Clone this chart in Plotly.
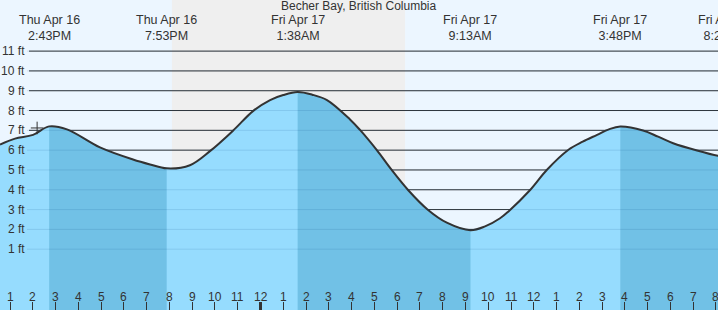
import plotly.graph_objects as go

# ---- data (hours since Thu Apr 16 00:00) ----
tide_hours = [12.56, 13.22, 14.01, 14.72, 15.50, 16.95, 18.40, 19.15, 19.88, 20.90,
              21.78, 22.79, 23.67, 24.42, 25.00, 25.63, 26.27, 26.92, 27.93, 28.37,
              29.10, 29.76, 30.48, 31.36, 32.18, 33.22, 33.86, 34.52, 34.90, 35.84,
              36.57, 37.51, 38.15, 38.78, 39.30, 39.80, 40.80, 41.46, 42.12, 43.17,
              44.09, 44.40]
tide_ft = [6.28, 6.58, 6.77, 7.20, 7.05, 6.14, 5.53, 5.28, 5.08, 5.24,
           5.95, 6.98, 7.97, 8.53, 8.78, 8.93, 8.80, 8.53, 7.55, 7.02,
           6.01, 5.00, 3.99, 2.98, 2.34, 1.96, 2.15, 2.56, 2.92, 3.99,
           5.00, 6.01, 6.43, 6.77, 7.05, 7.19, 6.99, 6.68, 6.35, 5.98,
           5.71, 5.66]

event_hours = [14.72, 19.88, 25.63, 33.22, 39.80, 44.40]
event_dates = ["Thu Apr 16", "Thu Apr 16", "Fri Apr 17", "Fri Apr 17", "Fri Apr 17", "Fri Apr 17"]
event_times = ["2:43PM", "7:53PM", "1:38AM", "9:13AM", "3:48PM", "8:24PM"]
event_kind = ["high", "low", "high", "low", "high", "low"]

night_start, night_end = 20.11, 30.35
now_hour, now_ft = 14.19, 7.12

hour_ticks = list(range(13, 45))
hour_labels = ["1", "2", "3", "4", "5", "6", "7", "8", "9", "10", "11", "12",
               "1", "2", "3", "4", "5", "6", "7", "8", "9", "10", "11", "12",
               "1", "2", "3", "4", "5", "6", "7", "8"]
midnight_hour = 24

ft_levels = [1, 2, 3, 4, 5, 6, 7, 8, 9, 10, 11]
ft_labels = [f"{v} ft" for v in ft_levels]

title = "Becher Bay, British Columbia"

# ---- styling ----
W, H = 718, 310
X_RANGE = [12.56, 44.09]
Y_RANGE = [-2.07, 13.58]
BASE = -5
DAY_BG = "#ecf6ff"
NIGHT_BG = "#efefef"
LIGHT = "#96dcfe"
DARK = "#71c1e6"
TXT = "#333333"
FONT = "Liberation Sans, Arial, sans-serif"


def to_paper(h):
    return (h - X_RANGE[0]) / (X_RANGE[1] - X_RANGE[0])


fig = go.Figure()

# light fill under whole curve
fig.add_trace(go.Scatter(x=[tide_hours[0], tide_hours[-1]], y=[BASE, BASE], mode="lines",
                         line=dict(width=0), hoverinfo="skip", showlegend=False))
fig.add_trace(go.Scatter(x=tide_hours, y=tide_ft, mode="lines", line=dict(width=0, shape="spline"),
                         fill="tonexty", fillcolor=LIGHT, hoverinfo="skip", showlegend=False))

# dark fill for falling tide (high -> next low)
for i, k in enumerate(event_kind):
    if k != "high":
        continue
    h0 = event_hours[i]
    h1 = event_hours[i + 1] if i + 1 < len(event_hours) else tide_hours[-1]
    seg = [(h, f) for h, f in zip(tide_hours, tide_ft) if h0 - 1e-6 <= h <= h1 + 1e-6]
    seg_x = [p[0] for p in seg]
    seg_y = [p[1] for p in seg]
    fig.add_trace(go.Scatter(x=[seg_x[0], seg_x[-1]], y=[BASE, BASE], mode="lines",
                             line=dict(width=0), hoverinfo="skip", showlegend=False))
    fig.add_trace(go.Scatter(x=seg_x, y=seg_y, mode="lines", line=dict(width=0, shape="spline"),
                             fill="tonexty", fillcolor=DARK, hoverinfo="skip", showlegend=False))

# curve line
fig.add_trace(go.Scatter(x=tide_hours, y=tide_ft, mode="lines",
                         line=dict(color=TXT, width=2, shape="spline"),
                         hoverinfo="skip", showlegend=False))

# now marker
fig.add_trace(go.Scatter(x=[now_hour], y=[now_ft], mode="markers",
                         marker=dict(symbol="cross-thin", size=9, line=dict(color=TXT, width=1)),
                         hoverinfo="skip", showlegend=False))

shapes = []
# night shading
shapes.append(dict(type="rect", xref="x", yref="paper", x0=night_start, x1=night_end, y0=0, y1=1,
                   fillcolor=NIGHT_BG, line=dict(width=0), layer="below"))
# gridlines
for v in ft_levels:
    shapes.append(dict(type="line", xref="paper", yref="y", x0=29 / W, x1=1, y0=v, y1=v,
                       line=dict(color=TXT, width=1), layer="between"))
    shapes.append(dict(type="line", xref="paper", yref="y", x0=27 / W, x1=1, y0=v, y1=v,
                       line=dict(color="rgba(0,70,130,0.13)", width=1), layer="above"))
# bold midnight tick
shapes.append(dict(type="line", xref="x", yref="paper", x0=midnight_hour, x1=midnight_hour,
                   y0=0, y1=8 / H, line=dict(color=TXT, width=3), layer="above"))

annotations = []
annotations.append(dict(text=title, x=359 / W, y=1 - 6 / H, xref="paper", yref="paper",
                        xanchor="center", yanchor="middle", showarrow=False, borderpad=0,
                        font=dict(size=12, color=TXT, family=FONT)))
for h, d, t in zip(event_hours, event_dates, event_times):
    annotations.append(dict(text=f"{d}<br>{t}", x=to_paper(h), y=1 - 28 / H, xref="paper", yref="paper",
                            xanchor="center", yanchor="middle", showarrow=False, borderpad=0,
                            font=dict(size=12.5, color=TXT, family=FONT)))
for v, lab in zip(ft_levels, ft_labels):
    annotations.append(dict(text=lab, x=27 / W, y=v, xref="paper", yref="y",
                            xanchor="right", yanchor="middle", showarrow=False,
                            font=dict(size=12, color=TXT, family=FONT)))
for h, lab in zip(hour_ticks, hour_labels):
    annotations.append(dict(text=lab, x=h, y=13 / H, xref="x", yref="paper",
                            xanchor="center", yanchor="middle", showarrow=False,
                            font=dict(size=12, color=TXT, family=FONT)))

fig.update_layout(
    width=W, height=H, margin=dict(l=0, r=0, t=0, b=0),
    paper_bgcolor=DAY_BG, plot_bgcolor=DAY_BG,
    shapes=shapes, annotations=annotations, showlegend=False,
    xaxis=dict(range=X_RANGE, showgrid=False, zeroline=False, showline=False,
               tickvals=hour_ticks, ticks="inside", ticklen=8, tickwidth=1, tickcolor=TXT,
               showticklabels=False, fixedrange=True),
    yaxis=dict(range=Y_RANGE, showgrid=False, zeroline=False, showline=False,
               showticklabels=False, ticks="", fixedrange=True),
)

fig.write_html("out.html")
